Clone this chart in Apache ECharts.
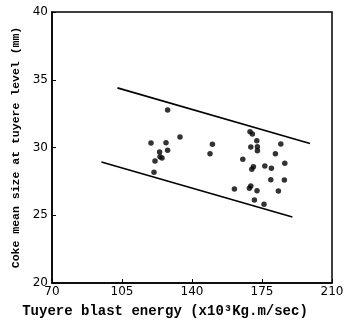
<!DOCTYPE html>
<html>
<head>
<meta charset="utf-8">
<script src="https://cdn.jsdelivr.net/npm/echarts@6/dist/echarts.min.js"></script>
<style>
  html, body { margin: 0; padding: 0; background: #fff; }
  #chart { width: 344px; height: 320px; }
</style>
</head>
<body>
<div id="chart"></div>
<script>
// scatter readings (blast energy, coke size)
const energy = [127.8, 119.5, 127.0, 134.0, 127.8, 123.8, 124.0, 125.0, 121.5, 121.0,
  150.2, 149.0, 161.2, 165.4,
  169.0, 170.2, 172.4, 169.4, 172.7, 172.7, 170.7, 169.9, 169.4, 168.7, 172.5, 171.2,
  176.4, 176.0, 179.7, 179.4, 181.7, 183.2, 184.4, 186.4, 186.2]
const cokeSize = [32.77, 30.33, 30.35, 30.77, 29.79, 29.67, 29.32, 29.22, 29.0, 28.17,
  30.24, 29.54, 26.94, 29.13,
  31.17, 31.0, 30.5, 30.04, 30.06, 29.76, 28.58, 28.39, 27.16, 26.99, 26.81, 26.13,
  28.63, 25.81, 28.46, 27.62, 29.54, 26.79, 30.26, 28.83, 27.6]
// band limits
const upperX = [102.7, 199]
const upperY = [34.4, 30.3]
const lowerX = [94.7, 190.2]
const lowerY = [28.93, 24.87]

const chart = echarts.init(document.getElementById('chart'), null, { renderer: 'canvas' })

const mono = '"Liberation Mono", "DejaVu Sans Mono", monospace'
const lineStyle = { color: '#000', width: 1.6 }

chart.setOption({
  animation: false,
  grid: { left: 52, right: 12, top: 12, bottom: 37, outerBoundsMode: 'none' },
  xAxis: {
    type: 'value',
    min: 70,
    max: 210,
    interval: 35,
    name: 'Tuyere blast energy (x10³Kg.m/sec)',
    nameLocation: 'middle',
    nameGap: 21,
    nameTextStyle: {
      fontFamily: mono, fontSize: 14, fontWeight: 'bold', color: '#000',
      padding: [0, 54, 0, 0],
    },
    axisLine: { show: true, lineStyle: { color: '#000', width: 1.5 } },
    axisTick: { show: true, inside: true, length: 4, lineStyle: { color: '#000' } },
    axisLabel: { color: '#000', fontSize: 12, fontFamily: '"DejaVu Sans", sans-serif', margin: 3 },
    splitLine: { show: false },
  },
  yAxis: {
    type: 'value',
    min: 20,
    max: 40,
    interval: 5,
    name: 'Coke mean size at tuyere level (mm)',
    nameLocation: 'middle',
    nameGap: 26,
    nameTextStyle: { fontFamily: mono, fontSize: 11.5, fontWeight: 'bold', color: '#000' },
    axisLine: { show: true, lineStyle: { color: '#000', width: 1.5 } },
    axisTick: { show: true, inside: true, length: 4, lineStyle: { color: '#000' } },
    axisLabel: { color: '#000', fontSize: 12, fontFamily: '"DejaVu Sans", sans-serif', margin: 4 },
    splitLine: { show: false },
  },
  graphic: [
    {
      type: 'rect',
      shape: { x: 52, y: 12, width: 280, height: 271 },
      style: { fill: 'none', stroke: '#000', lineWidth: 1.5 },
      silent: true,
    },
  ],
  series: [
    {
      type: 'scatter',
      data: energy.map((x, i) => [x, cokeSize[i]]),
      symbolSize: 5.5,
      itemStyle: { color: '#000' },
    },
    {
      type: 'line',
      data: upperX.map((x, i) => [x, upperY[i]]),
      symbol: 'none',
      lineStyle,
    },
    {
      type: 'line',
      data: lowerX.map((x, i) => [x, lowerY[i]]),
      symbol: 'none',
      lineStyle,
    },
  ],
})
</script>
</body>
</html>
